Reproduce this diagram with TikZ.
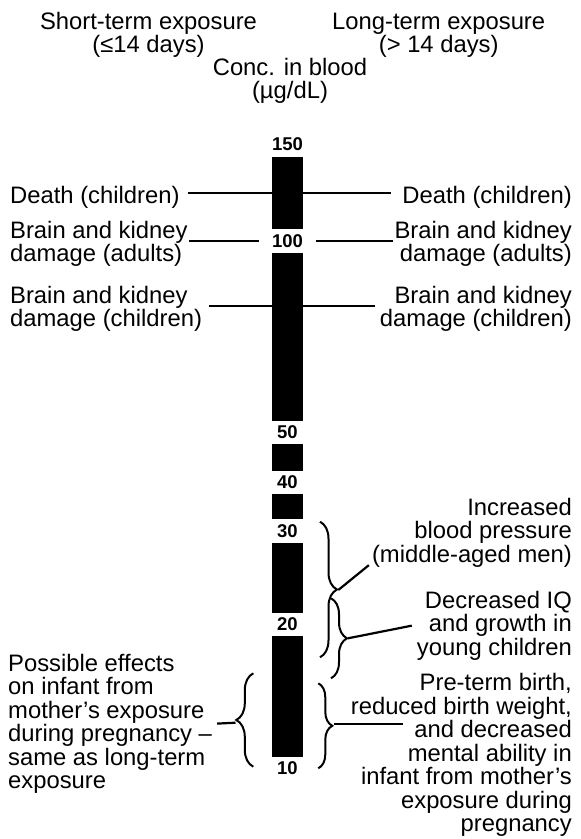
\documentclass[tikz,border=0pt]{standalone}
\usepackage{fontspec}
\setmainfont{Liberation Sans}
\usetikzlibrary{decorations.pathreplacing}
\tikzset{every node/.style={font=\fontsize{23.8}{21}\selectfont, inner sep=0pt}}

\begin{document}
\begin{tikzpicture}[x=1pt, y=-1pt,
    head/.style={font=\fontsize{23.8}{23}\selectfont, anchor=base, align=center},
    lower/.style={font=\fontsize{23.8}{23.5}\selectfont},
    leader/.style={line width=2.2pt},
    conc/.style={font=\fontsize{18.5}{20}\selectfont\bfseries, fill=white,
      minimum width=57pt, minimum height=23.3pt},
    curly/.style={decorate, decoration={brace, amplitude=#1}, line width=2pt}]
  % Bounding box of the whole figure
  \path[use as bounding box] (0,0) rectangle (581,839);

  % Column headings (base = last line).
  \node[head] (shortH) at (148.5,52) {Short-term exposure\\(≤14 days)};
  \node[head] (longH) at (438.7,52) {Long-term exposure\\(> 14 days)};
  \node[head] (concH) at (290,98) {Conc. in blood\\(µg/dL)};

  % Effects at high levels, both sides.
  \node[anchor=base west] (deathL) at (10,203.3) {Death (children)};
  \node[anchor=base east] (deathR) at (572,203.3) {Death (children)};
  \node[anchor=base west, align=left] (adultL) at (10,261.7) {Brain and kidney\\damage (adults)};
  \node[anchor=base east, align=right] (adultR) at (572,261.7) {Brain and kidney\\damage (adults)};
  \node[anchor=base west, align=left] (childL) at (10,326.7) {Brain and kidney\\damage (children)};
  \node[anchor=base east, align=right] (childR) at (572,326.7) {Brain and kidney\\damage (children)};

  \draw[leader] ([xshift=8pt,yshift=10.6pt]deathL.base east) -- ([xshift=-11.6pt,yshift=10.6pt]deathR.base west);
  \draw[leader] ([xshift=1.6pt,yshift=21pt]adultL.base east) -- ([xshift=-1.6pt,yshift=21pt]adultR.base west);
  \draw[leader] ([xshift=6.6pt,yshift=20.7pt]childL.base east) -- ([xshift=-5pt,yshift=20.7pt]childR.base west);

  % The concentration bar, cut by its values.
  \fill (271.7,156.7) rectangle (303.3,756.7);
  \foreach \val/\ypos in {150/144.5, 100/241, 50/432.5, 40/482.3, 30/531, 20/624.3, 10/768.5}
    \node[conc] (c\val) at (287.5,\ypos) {\val};

  % Effects at low levels.
  \node[lower, anchor=base east, align=right] (bpR) at (572,562)
    {Increased\\blood pressure\\(middle-aged men)};
  \node[lower, anchor=base east, align=right] (iqR) at (572,655.3)
    {Decreased IQ\\and growth in\\young children};
  \node[lower, anchor=base east, align=right] (ptR) at (572,831.7)
    {Pre-term birth,\\reduced birth weight,\\and decreased\\mental ability in\\infant from mother’s\\exposure during\\pregnancy};
  \node[lower, anchor=base west, align=left] (posL) at (8,788.5)
    {Possible effects\\on infant from\\mother’s exposure\\during pregnancy –\\same as long-term\\exposure};

  % Braces and their leaders.
  \draw[curly=17pt] (320,521.7) -- (320,657.3);
  \draw[curly=16pt] (331,598.3) -- (331,678.3);
  \draw[curly=14pt] (318.3,683.3) -- (318.3,768.3);
  \draw[curly=17pt] (253.3,766.7) -- (253.3,673.3);

  \coordinate (bpTip) at (338.3,590);
  \coordinate (iqTip) at (348,638.3);
  \coordinate (ptTip) at (333.5,724);
  \coordinate (posTip) at (235.5,722.7);

  \draw[leader] (bpTip) -- ([xshift=-3pt,yshift=2pt]bpR.south west);
  \draw[leader] (iqTip) -- ([xshift=-5pt]iqR.west);
  \draw[leader] (ptTip) -- ++(69.5,0);
  \draw[leader] ([xshift=5pt]posL.east) -- (posTip);
\end{tikzpicture}
\end{document}
